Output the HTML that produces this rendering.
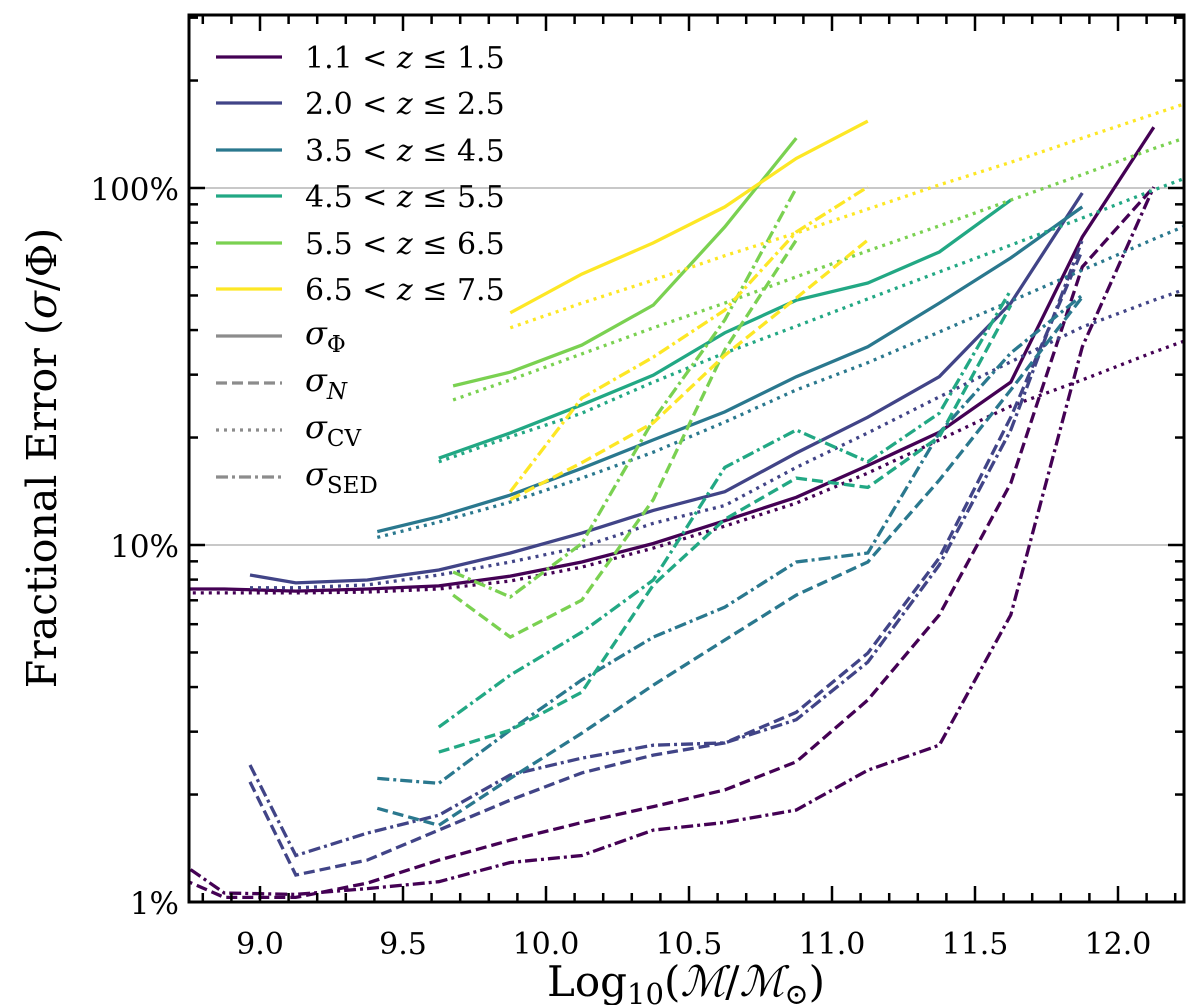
<!DOCTYPE html>
<html><head><meta charset="utf-8"><style>
html,body{margin:0;padding:0;background:#fff;}
svg{display:block;font-family:"DejaVu Serif","Liberation Serif",serif;}
</style></head><body>
<svg id="chart" width="1200" height="1005" viewBox="0 0 1200 1005" xmlns="http://www.w3.org/2000/svg">
<defs><clipPath id="plotclip"><rect x="189" y="15" width="995" height="887"/></clipPath></defs>
<rect x="0" y="0" width="1200" height="1005" fill="#fff"/>
<g id="grid"></g>
<g id="series" clip-path="url(#plotclip)"></g>
<g id="axes"></g>
<g id="legend"></g>
<text x="686" y="996" text-anchor="middle" font-size="42">Log<tspan font-size="29" dy="8">10</tspan><tspan dy="-8">(</tspan><tspan font-style="italic">ℳ</tspan>/<tspan font-style="italic">ℳ</tspan><tspan font-size="29" dy="8">⊙</tspan><tspan dy="-8">)</tspan></text>
<text transform="translate(56,458) rotate(-90)" text-anchor="middle" font-size="41">Fractional Error (<tspan font-style="italic">σ</tspan>/Φ)</text>
</svg>
<script>
const NS='http://www.w3.org/2000/svg';
// ---- data ----
const zLabels=['1.1','1.5','2.0','2.5','3.5','4.5','4.5','5.5','5.5','6.5','6.5','7.5'];
const colors=['#440154','#414487','#2a788e','#22a884','#7ad151','#fde725'];
const xTicks=[9.0,9.5,10.0,10.5,11.0,11.5,12.0];
const xTickLabels=['9.0','9.5','10.0','10.5','11.0','11.5','12.0'];
const yTicks=[1,10,100];
const yTickLabels=['1%','10%','100%'];

const m1=[8.625,8.875,9.125,9.375,9.625,9.875,10.125,10.375,10.625,10.875,11.125,11.375,11.625,11.875,12.125];
const m1cv=[8.625,8.875,9.125,9.375,9.625,9.875,10.125,10.375,10.625,10.875,11.125,11.375,11.625,11.875,12.125,12.375];
const z1phi=[7.53,7.53,7.43,7.53,7.68,8.18,8.96,10.1,11.7,13.6,16.7,20.7,28.6,72.9,148];
const z1cv=[7.34,7.34,7.34,7.38,7.53,7.93,8.67,9.8,11.3,13.1,15.9,19.7,24.5,29.0,34.7,41.0];
const z1n=[1.26,1.03,1.03,1.13,1.31,1.49,1.67,1.85,2.06,2.47,3.68,6.37,14.9,60.1,100.7];
const z1sed=[1.46,1.06,1.05,1.09,1.14,1.29,1.35,1.59,1.67,1.81,2.34,2.75,6.37,35.9,100.7];

const m2=[8.965,9.125,9.375,9.625,9.875,10.125,10.375,10.625,10.875,11.125,11.375,11.625,11.875];
const m2cv=[8.965,9.125,9.375,9.625,9.875,10.125,10.375,10.625,10.875,11.125,11.375,11.625,11.875,12.125,12.375];
const z2phi=[8.24,7.83,7.98,8.51,9.5,10.8,12.5,14.1,18.1,22.8,29.6,47.6,96.8];
const z2cv=[7.59,7.59,7.73,8.24,8.96,9.87,11.5,12.9,16.5,20.6,26.0,32.6,40.8,48.5,57.0];
const z2n=[2.17,1.19,1.31,1.59,1.93,2.30,2.58,2.79,3.40,4.98,9.2,22.8,67.0];
const z2sed=[2.42,1.35,1.56,1.75,2.27,2.53,2.75,2.79,3.24,4.70,8.79,21.0,71.5];

const m3=[9.41,9.625,9.875,10.125,10.375,10.625,10.875,11.125,11.375,11.625,11.875];
const m3cv=[9.41,9.625,9.875,10.125,10.375,10.625,10.875,11.125,11.375,11.625,11.875,12.125,12.375];
const z3phi=[10.9,12.0,13.8,16.4,19.7,23.6,29.6,35.9,47.6,63.7,88.5];
const z3cv=[10.5,11.6,13.2,15.4,18.2,22.1,27.2,32.4,39.5,48.2,58.9,71.9,87.3];
const z3n=[1.83,1.64,2.22,2.97,4.05,5.42,7.24,8.96,15.2,27.2,49.5];
const z3sed=[2.22,2.15,3.03,4.19,5.52,6.70,8.96,9.5,20.6,34.5,50.1];

const m4=[9.625,9.875,10.125,10.375,10.625,10.875,11.125,11.375,11.625];
const m4cv=[9.625,9.875,10.125,10.375,10.625,10.875,11.125,11.375,11.625,11.875,12.125,12.375];
const z4phi=[17.5,20.6,24.7,29.9,39.3,48.5,54.2,66.2,92.5];
const z4cv=[17.1,20.1,23.4,28.6,34.5,41.0,48.9,58.2,69.2,82.4,98.7,117.5];
const z4n=[2.63,3.03,3.87,7.73,11.8,15.4,14.5,20.1,47.0];
const z4sed=[3.09,4.32,5.70,7.98,16.5,21.0,17.1,23.4,51.8];

const m5=[9.675,9.875,10.125,10.375,10.625,10.875];
const m5cv=[9.675,9.875,10.125,10.375,10.625,10.875,11.125,11.375,11.625,11.875,12.125,12.375];
const z5phi=[27.9,30.5,36.3,47.0,77.8,138];
const z5cv=[25.5,29.0,34.3,40.6,47.6,56.4,66.7,78.3,92.5,109,129,151];
const z5n=[7.24,5.52,7.01,13.4,35.2,71.5];
const z5sed=[8.4,7.15,10.1,22.4,42.7,100];

const m6=[9.875,10.125,10.375,10.625,10.875,11.125];
const m6cv=[9.875,10.125,10.375,10.625,10.875,11.125,11.375,11.625,11.875,12.125,12.375];
const z6phi=[44.7,57.4,70.2,88.5,121,154];
const z6cv=[40.6,47.6,55.2,64.6,74.8,87.3,102,118,138,161,188];
const z6n=[13.4,17.0,22.0,34.0,49.2,71.5];
const z6sed=[14.1,25.8,33.6,45.5,75.3,100.7];

// ---- scales ----
const X0=189,X1=1184,Y0=15,Y1=902;
function xS(m){return 260+(m-9)*286;}
function yS(v){return 902-357*Math.log10(v);}
const dashes={phi:'',n:'11,5',cv:'3,5',sed:'12,4,3,4'};

const grid=document.getElementById('grid');
yTicks.slice(1).forEach(v=>{
  const l=document.createElementNS(NS,'line');
  
  
  l.setAttribute('x1',X0);l.setAttribute('x2',X1);l.setAttribute('y1',yS(v));l.setAttribute('y2',yS(v));
  l.setAttribute('stroke','#c8c8c8');l.setAttribute('stroke-width','2');
  grid.appendChild(l);
});

const sg=document.getElementById('series');
function draw(ms,vs,col,kind,name){
  const p=document.createElementNS(NS,'polyline');
  
  
  p.setAttribute('points',ms.map((m,i)=>xS(m).toFixed(1)+','+yS(vs[i]).toFixed(1)).join(' '));
  p.setAttribute('fill','none');p.setAttribute('stroke',col);p.setAttribute('stroke-width','3.3');
  if(dashes[kind])p.setAttribute('stroke-dasharray',dashes[kind]);
  sg.appendChild(p);
}
const sets=[
 [m1,m1cv,z1phi,z1cv,z1n,z1sed],[m2,m2cv,z2phi,z2cv,z2n,z2sed],[m3,m3cv,z3phi,z3cv,z3n,z3sed],
 [m4,m4cv,z4phi,z4cv,z4n,z4sed],[m5,m5cv,z5phi,z5cv,z5n,z5sed],[m6,m6cv,z6phi,z6cv,z6n,z6sed]];
sets.forEach((s,i)=>{
  const c=colors[i];
  draw(s[1],s[3],c,'cv','cv-line-z'+i);
  draw(s[0],s[4],c,'n','n-line-z'+i);
  draw(s[0],s[5],c,'sed','sed-line-z'+i);
  draw(s[0],s[2],c,'phi','phi-line-z'+i);
});

// ---- axes ----
const ax=document.getElementById('axes');
function ln(x1,y1,x2,y2,w,name){
  const l=document.createElementNS(NS,'line');
  
  
  l.setAttribute('x1',x1);l.setAttribute('y1',y1);l.setAttribute('x2',x2);l.setAttribute('y2',y2);
  l.setAttribute('stroke','#000');l.setAttribute('stroke-width',w);
  ax.appendChild(l);
}
function tx(x,y,s,anchor,size,name){
  const t=document.createElementNS(NS,'text');
  
  
  t.setAttribute('x',x);t.setAttribute('y',y);t.setAttribute('text-anchor',anchor);t.setAttribute('font-size',size);
  t.textContent=s;ax.appendChild(t);
}
for(let k=0;k<=35;k++){
  const m=8.8+k*0.1; const x=xS(m); if(x<X0||x>X1)continue;
  const major=Math.abs((m*2)-Math.round(m*2))<1e-6;
  const L=major?16:9;
  ln(x,Y1,x,Y1-L,2.5,'x-tick');ln(x,Y0,x,Y0+L,2.5,'x-tick-top');
}
xTicks.forEach((m,i)=>tx(xS(m),954,xTickLabels[i],'middle',30,'x-tick-label'));
for(let d=0;d<=2;d++){for(let k=1;k<=9;k++){
  const v=Math.pow(10,d)*k; const y=yS(v); if(y<Y0)continue;
  const L=k===1?16:9;
  ln(X0,y,X0+L,y,2.5,'y-tick');ln(X1,y,X1-L,y,2.5,'y-tick-right');
}}
yTicks.forEach((v,i)=>tx(179,yS(v)+12,yTickLabels[i],'end',31,'y-tick-label'));
const fr=document.createElementNS(NS,'rect');


fr.setAttribute('x',X0);fr.setAttribute('y',Y0);fr.setAttribute('width',X1-X0);fr.setAttribute('height',Y1-Y0);
fr.setAttribute('fill','none');fr.setAttribute('stroke','#000');fr.setAttribute('stroke-width','3');
ax.appendChild(fr);

// ---- legend ----
const lg=document.getElementById('legend');
function legLine(y,col,dash,name){
  const l=document.createElementNS(NS,'line');
  
  
  l.setAttribute('x1',216);l.setAttribute('x2',282);l.setAttribute('y1',y);l.setAttribute('y2',y);
  l.setAttribute('stroke',col);l.setAttribute('stroke-width','3.3');
  if(dash)l.setAttribute('stroke-dasharray',dash);
  lg.appendChild(l);
}
const legY=[57,103,150,196,243,289];
colors.forEach((c,i)=>{
  legLine(legY[i],c,'','legend-line-z'+i);
  const t=document.createElementNS(NS,'text');
  
  
  t.setAttribute('x',305);t.setAttribute('y',legY[i]+11);t.setAttribute('font-size',30);
  t.innerHTML=zLabels[2*i]+' &lt; <tspan font-style="italic">z</tspan> ≤ '+zLabels[2*i+1];
  lg.appendChild(t);
});
const sy=[336,383,430,477];
const kinds=['phi','n','cv','sed'];
const subs=['Φ','N','CV','SED'];
kinds.forEach((k,i)=>{
  legLine(sy[i],'#8c8c8c',dashes[k],'legend-line-'+k);
  const t=document.createElementNS(NS,'text');
  
  
  t.setAttribute('x',305);t.setAttribute('y',sy[i]+8);t.setAttribute('font-size',32);
  t.innerHTML='<tspan font-style="italic">σ</tspan><tspan font-size="23" dy="8"'+(k==='n'?' font-style="italic"':'')+'>'+subs[i]+'</tspan>';
  lg.appendChild(t);
});
</script>
</body></html>
